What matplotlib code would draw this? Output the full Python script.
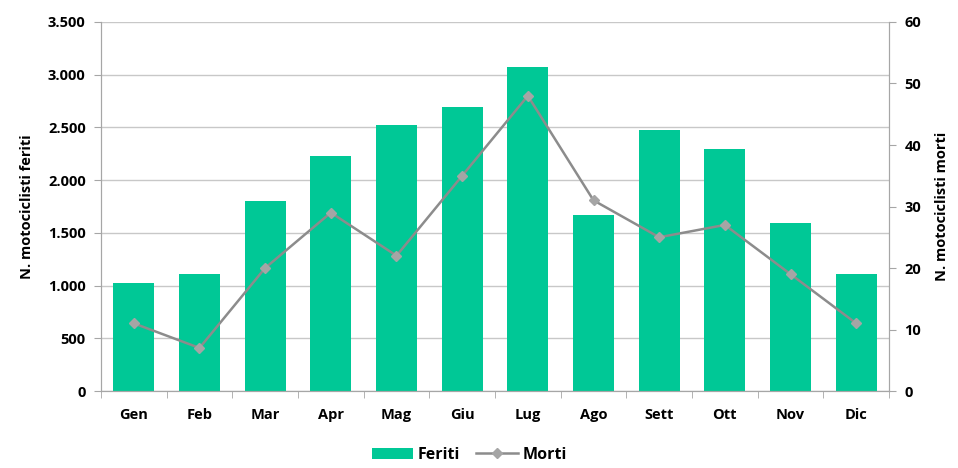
import numpy as np
import matplotlib.pyplot as plt
from matplotlib.ticker import FuncFormatter

# --- data ---
mesi = ['Gen', 'Feb', 'Mar', 'Apr', 'Mag', 'Giu', 'Lug', 'Ago', 'Sett', 'Ott', 'Nov', 'Dic']
feriti = [1020, 1110, 1800, 2230, 2520, 2690, 3070, 1670, 2480, 2300, 1595, 1110]
morti = [11, 7, 20, 29, 22, 35, 48, 31, 25, 27, 19, 11]

bar_color = '#00C896'
line_color = '#8C8C8C'
axis_color = '#A6A6A6'

plt.rcParams['font.family'] = ['Open Sans', 'DejaVu Sans']
plt.rcParams['font.weight'] = 'bold'

fig = plt.figure(figsize=(9.58, 4.68), dpi=100)
ax = fig.add_axes([0.1054, 0.1645, 0.8226, 0.7885])
ax2 = ax.twinx()

x = np.arange(len(mesi))
ax.bar(x, feriti, width=0.62, color=bar_color, label='Feriti', zorder=2)
ax2.plot(x, morti, '-', color=line_color, lw=1.8, marker='D', markersize=5,
         markerfacecolor='#A5A5A5', markeredgecolor='#A5A5A5', label='Morti', zorder=3)

ax.set_xlim(-0.5, len(mesi) - 0.5)
ax.set_ylim(0, 3500)
ax.set_yticks(np.arange(0, 3501, 500))
ax.yaxis.set_major_formatter(FuncFormatter(lambda v, p: f'{int(v):,}'.replace(',', '.')))
ax2.set_ylim(0, 60)
ax2.set_yticks(np.arange(0, 61, 10))

ax.set_xticks(x)
ax.set_xticklabels(mesi)
ax.set_xticks(np.arange(-0.5, len(mesi), 1), minor=True)
ax.tick_params(axis='x', which='major', length=0, pad=12, labelsize=10.5)
ax.tick_params(axis='x', which='minor', length=5, color=axis_color, direction='out')
ax.tick_params(axis='y', length=5, color=axis_color, labelsize=10.5, pad=6)
ax2.tick_params(axis='y', length=5, color=axis_color, labelsize=10.5, pad=6)
for lbl in ax.get_xticklabels() + ax.get_yticklabels() + ax2.get_yticklabels():
    lbl.set_fontweight('bold')

ax.grid(axis='y', color='#C8C8C8', lw=1, zorder=0)
ax.set_axisbelow(True)

for a in (ax, ax2):
    a.spines['top'].set_visible(False)
    for s in ('left', 'right', 'bottom'):
        a.spines[s].set_color(axis_color)

ax.set_ylabel('N. motociclisti feriti', fontsize=10.5, fontweight='bold', labelpad=10)
ax2.set_ylabel('N. motociclisti morti', fontsize=10.5, fontweight='bold', labelpad=10)

h1, l1 = ax.get_legend_handles_labels()
h2, l2 = ax2.get_legend_handles_labels()
fig.legend(h1 + h2, l1 + l2, loc='lower center', bbox_to_anchor=(0.49, -0.02), ncol=2,
           frameon=False, fontsize=11.5, handlelength=2.6, handletextpad=0.3, columnspacing=1.0)

fig.savefig('out.png', dpi=100)
